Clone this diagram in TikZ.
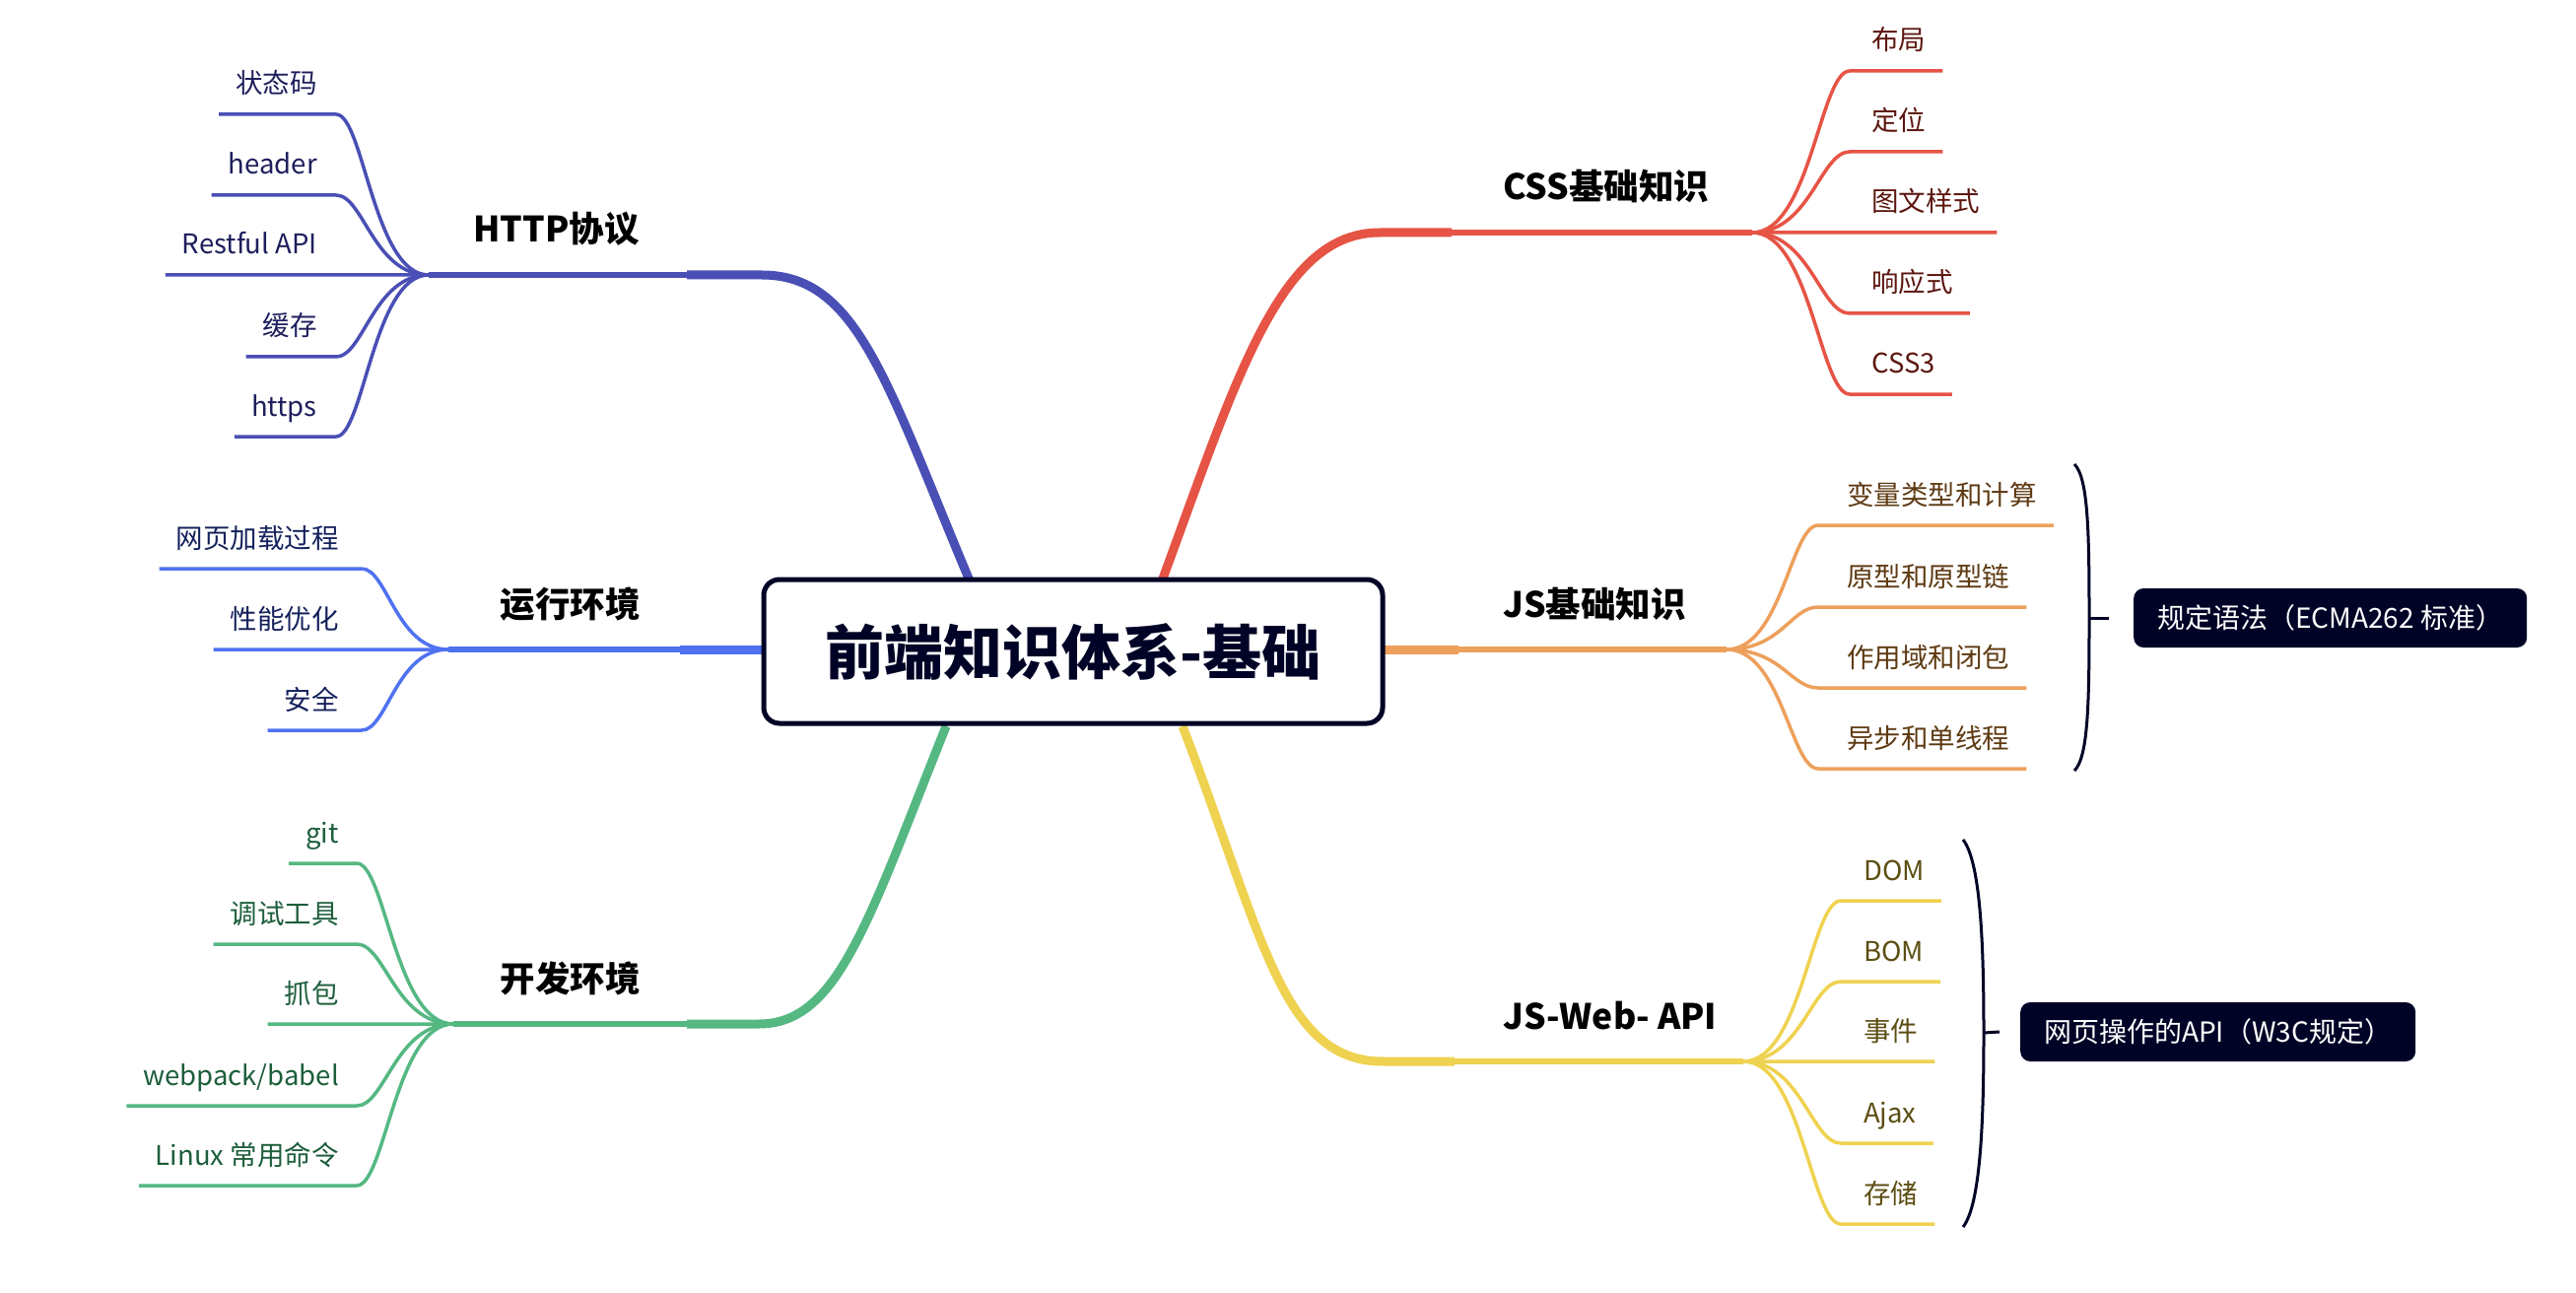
\documentclass[tikz,border=0pt]{standalone}
\usepackage{fontspec}
\setmainfont{Noto Sans CJK SC}
\usetikzlibrary{backgrounds}

\definecolor{navy}{HTML}{000326}
\definecolor{httpcol}{HTML}{4A4FB5}
\definecolor{httptxt}{HTML}{1E1F5C}
\definecolor{runcol}{HTML}{4F72F0}
\definecolor{runtxt}{HTML}{14215C}
\definecolor{devcol}{HTML}{55B882}
\definecolor{devtxt}{HTML}{1D5E3C}
\definecolor{csscol}{HTML}{E65445}
\definecolor{csstxt}{HTML}{5C1710}
\definecolor{jscol}{HTML}{EDA05C}
\definecolor{jstxt}{HTML}{5E3A12}
\definecolor{webcol}{HTML}{EFD250}
\definecolor{webtxt}{HTML}{5C4D12}

\begin{document}
\begin{tikzpicture}[x=1bp,y=-1bp,line join=round,
  branch/.style={line width=9bp},
  twig/.style={line width=6.5bp},
  leafline/.style={line width=3.5bp},
  leaftext/.style={inner xsep=17bp,inner ysep=0pt,font=\fontsize{27.5bp}{33bp}\selectfont},
  lefttext/.style={leaftext,anchor=base east},
  righttext/.style={leaftext,anchor=base west},
  topic/.style={inner sep=0pt,font=\fontsize{35.5bp}{42bp}\selectfont\bfseries},
  sumbox/.style={fill=navy,text=white,rounded corners=10bp,minimum height=60bp,
    inner xsep=24bp,anchor=west,font=\fontsize{28bp}{32bp}\selectfont},
  brace/.style={draw=navy,line width=3bp},
]
\useasboundingbox (0,0) rectangle (2614,1312);

% Node: root
\node[draw=navy,line width=5bp,fill=white,rounded corners=16bp,minimum width=628bp,
  minimum height=146bp,inner sep=0pt,text=navy,
  font=\fontsize{60bp}{68bp}\selectfont\bfseries] (root) at (1089,661) {前端知识体系-基础};

% Junctions
\coordinate (jhttp) at (435,279);
\coordinate (jrun) at (455,659);
\coordinate (jdev) at (460,1039);
\coordinate (jcss) at (1778,236);
\coordinate (jjs) at (1752,659);
\coordinate (jweb) at (1769,1077);

% Node: topics
\node[topic,anchor=base east] (lhttp) at (649,246) {HTTP协议};
\node[topic,anchor=base east] (lrun) at (650,626) {运行环境};
\node[topic,anchor=base east] (ldev) at (650,1006) {开发环境};
\node[topic,anchor=base west] (lcss) at (1525,203) {CSS基础知识};
\node[topic,anchor=base west] (ljs) at (1525,626) {JS基础知识};
\node[topic,anchor=base west] (lweb) at (1525,1044) {JS-Web- API};

% Node: HTTP leaves
\node[lefttext,text=httptxt] (zt) at (339,95) {状态码};
\node[lefttext,text=httptxt] (hd) at (339,177) {header};
\node[lefttext,text=httptxt] (rf) at (339,258) {Restful API};
\node[lefttext,text=httptxt] (hc) at (339,341) {缓存};
\node[lefttext,text=httptxt] (hs) at (339,422) {https};

% Node: run leaves
\node[lefttext,text=runtxt] (wy) at (361,556) {网页加载过程};
\node[lefttext,text=runtxt] (xn) at (361,638) {性能优化};
\node[lefttext,text=runtxt] (aq) at (361,720) {安全};

% Node: dev leaves
\node[lefttext,text=devtxt] (git) at (361,855) {git};
\node[lefttext,text=devtxt] (ts) at (361,937) {调试工具};
\node[lefttext,text=devtxt] (zb) at (361,1018) {抓包};
\node[lefttext,text=devtxt] (wp) at (361,1101) {webpack/babel};
\node[lefttext,text=devtxt] (lx) at (361,1182) {Linux 常用命令};

% Node: css leaves
\node[righttext,text=csstxt] (bj) at (1882,51) {布局};
\node[righttext,text=csstxt] (dw) at (1882,133) {定位};
\node[righttext,text=csstxt] (tw) at (1882,215) {图文样式};
\node[righttext,text=csstxt] (xy) at (1882,297) {响应式};
\node[righttext,text=csstxt] (c3) at (1882,379) {CSS3};

% Node: js leaves
\node[righttext,text=jstxt] (bl) at (1857,512) {变量类型和计算};
\node[righttext,text=jstxt] (yx) at (1857,595) {原型和原型链};
\node[righttext,text=jstxt] (zy) at (1857,677) {作用域和闭包};
\node[righttext,text=jstxt] (yb) at (1857,759) {异步和单线程};

% Node: web leaves
\node[righttext,text=webtxt] (dom) at (1874,893) {DOM};
\node[righttext,text=webtxt] (bom) at (1874,975) {BOM};
\node[righttext,text=webtxt] (sj) at (1874,1056) {事件};
\node[righttext,text=webtxt] (ajax) at (1874,1139) {Ajax};
\node[righttext,text=webtxt] (cc) at (1874,1221) {存储};

% Node: summaries
\node[sumbox] (sumjs) at (2165,627) {规定语法（ECMA262 标准）};
\node[sumbox] (sumweb) at (2050,1047) {网页操作的API（W3C规定）};

\begin{scope}[on background layer]
\fill[white] (0,0) rectangle (2614,1312);

% Edge: root -> http
\draw[branch,httpcol] (root) -- (983,587) .. controls +(-84,-200) and +(97,0) .. (773,279) -- (697,279);
\draw[twig,httpcol] (697,279) -- (jhttp);

% Edge: root -> run
\draw[branch,runcol] (root.center |- jrun) -- (690,659);
\draw[twig,runcol] (690,659) -- (jrun);

% Edge: root -> dev
\draw[branch,devcol] (root) -- (960,737) .. controls +(-80,200) and +(80,0) .. (770,1039) -- (697,1039);
\draw[twig,devcol] (697,1039) -- (jdev);

% Edge: root -> css
\draw[branch,csscol] (root) -- (1180,587) .. controls +(77,-210) and +(-100,0) .. (1400,236) -- (1473,236);
\draw[twig,csscol] (1473,236) -- (jcss);

% Edge: root -> js
\draw[branch,jscol] (root.center |- jjs) -- (1480,659);
\draw[twig,jscol] (1480,659) -- (jjs);

% Edge: root -> web
\draw[branch,webcol] (root) -- (1200,737) .. controls +(81,210) and +(-103,0) .. (1403,1077) -- (1476,1077);
\draw[twig,webcol] (1476,1077) -- (jweb);

% Edge: http -> leaves
\draw[leafline,httpcol] (jhttp) .. controls +(-56,0) and +(28,0) .. (341,116) -- ([yshift=-21bp]zt.base west);
\draw[leafline,httpcol] (jhttp) .. controls +(-56,0) and +(28,0) .. (341,198) -- ([yshift=-21bp]hd.base west);
\draw[leafline,httpcol] (jhttp) -- ([yshift=-21bp]rf.base west);
\draw[leafline,httpcol] (jhttp) .. controls +(-56,0) and +(28,0) .. (341,362) -- ([yshift=-21bp]hc.base west);
\draw[leafline,httpcol] (jhttp) .. controls +(-56,0) and +(28,0) .. (341,443) -- ([yshift=-21bp]hs.base west);

% Edge: run -> leaves
\draw[leafline,runcol] (jrun) .. controls +(-53,0) and +(26,0) .. (367,577) -- ([yshift=-21bp]wy.base west);
\draw[leafline,runcol] (jrun) -- ([yshift=-21bp]xn.base west);
\draw[leafline,runcol] (jrun) .. controls +(-53,0) and +(26,0) .. (367,741) -- ([yshift=-21bp]aq.base west);

% Edge: dev -> leaves
\draw[leafline,devcol] (jdev) .. controls +(-59,0) and +(29,0) .. (362,876) -- ([yshift=-21bp]git.base west);
\draw[leafline,devcol] (jdev) .. controls +(-59,0) and +(29,0) .. (362,958) -- ([yshift=-21bp]ts.base west);
\draw[leafline,devcol] (jdev) -- ([yshift=-21bp]zb.base west);
\draw[leafline,devcol] (jdev) .. controls +(-59,0) and +(29,0) .. (362,1122) -- ([yshift=-21bp]wp.base west);
\draw[leafline,devcol] (jdev) .. controls +(-59,0) and +(29,0) .. (362,1203) -- ([yshift=-21bp]lx.base west);

% Edge: css -> leaves
\draw[leafline,csscol] (jcss) .. controls +(59,0) and +(-30,0) .. (1877,72) -- ([yshift=-21bp]bj.base east);
\draw[leafline,csscol] (jcss) .. controls +(59,0) and +(-30,0) .. (1877,154) -- ([yshift=-21bp]dw.base east);
\draw[leafline,csscol] (jcss) -- ([yshift=-21bp]tw.base east);
\draw[leafline,csscol] (jcss) .. controls +(59,0) and +(-30,0) .. (1877,318) -- ([yshift=-21bp]xy.base east);
\draw[leafline,csscol] (jcss) .. controls +(59,0) and +(-30,0) .. (1877,400) -- ([yshift=-21bp]c3.base east);

% Edge: js -> leaves
\draw[leafline,jscol] (jjs) .. controls +(56,0) and +(-28,0) .. (1845,533) -- ([yshift=-21bp]bl.base east);
\draw[leafline,jscol] (jjs) .. controls +(56,0) and +(-28,0) .. (1845,616) -- ([yshift=-21bp]yx.base east);
\draw[leafline,jscol] (jjs) .. controls +(56,0) and +(-28,0) .. (1845,698) -- ([yshift=-21bp]zy.base east);
\draw[leafline,jscol] (jjs) .. controls +(56,0) and +(-28,0) .. (1845,780) -- ([yshift=-21bp]yb.base east);

% Edge: web -> leaves
\draw[leafline,webcol] (jweb) .. controls +(59,0) and +(-30,0) .. (1868,914) -- ([yshift=-21bp]dom.base east);
\draw[leafline,webcol] (jweb) .. controls +(59,0) and +(-30,0) .. (1868,996) -- ([yshift=-21bp]bom.base east);
\draw[leafline,webcol] (jweb) -- ([yshift=-21bp]sj.base east);
\draw[leafline,webcol] (jweb) .. controls +(59,0) and +(-30,0) .. (1868,1160) -- ([yshift=-21bp]ajax.base east);
\draw[leafline,webcol] (jweb) .. controls +(59,0) and +(-30,0) .. (1868,1242) -- ([yshift=-21bp]cc.base east);
\end{scope}

% Edge: js leaves -> sumjs
\draw[brace] (2105,471) .. controls (2119,485) and (2120,540) .. (2120,627)
  .. controls (2120,714) and (2119,768) .. (2105,782);
\draw[brace] (2120,627) -- ([xshift=-25bp]sumjs.west);

% Edge: web leaves -> sumweb
\draw[brace] (1992,852) .. controls (2010,875) and (2013,960) .. (2013,1048)
  .. controls (2013,1136) and (2010,1222) .. (1992,1245);
\draw[brace] (2013,1048) -- ([xshift=-21bp]sumweb.west);

\end{tikzpicture}
\end{document}
